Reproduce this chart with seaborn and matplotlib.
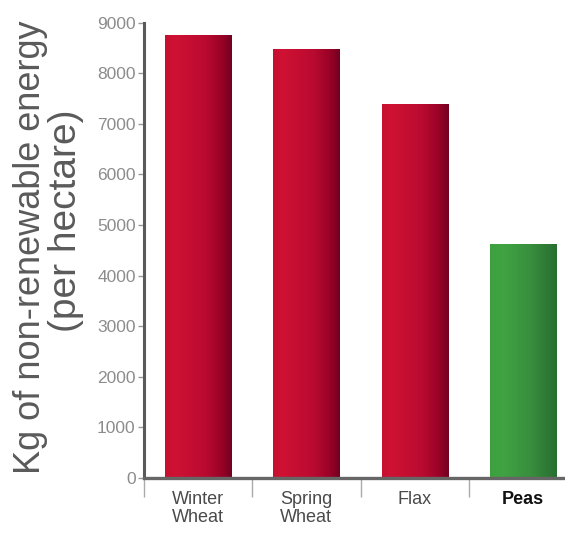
import numpy as np
import pandas as pd
import matplotlib
matplotlib.use("Agg")
import matplotlib.pyplot as plt
from matplotlib.colors import LinearSegmentedColormap
import seaborn as sns

# Non-renewable energy use per hectare by crop
crops = ["Winter\nWheat", "Spring\nWheat", "Flax", "Peas"]
energy_kg = [8750, 8490, 7400, 4620]
y_ticks = [0, 1000, 2000, 3000, 4000, 5000, 6000, 7000, 8000, 9000]

sns.set_theme(style="white")
plt.rcParams["font.family"] = ["Liberation Sans", "DejaVu Sans"]

df = pd.DataFrame({"crop": crops, "energy": energy_kg})

fig = plt.figure(figsize=(5.65, 5.37), dpi=100)
ax = fig.add_axes([144 / 565, 59 / 537, 433 / 565, 455.3 / 537])

base_colors = ["#c0102e", "#c0102e", "#c0102e", "#3a9a44"]
sns.barplot(data=df, x="crop", y="energy", hue="crop", palette=base_colors,
            legend=False, width=0.61, saturation=1, ax=ax)

# Horizontal shading inside each bar
red_cmap = LinearSegmentedColormap.from_list(
    "red_shade",
    [(0.0, (0.78, 0.06, 0.19)), (0.15, (0.81, 0.07, 0.20)),
     (0.6, (0.73, 0.04, 0.19)), (0.85, (0.60, 0.01, 0.15)),
     (1.0, (0.44, 0.00, 0.13))])
green_cmap = LinearSegmentedColormap.from_list(
    "green_shade",
    [(0.0, (0.24, 0.63, 0.25)), (0.2, (0.25, 0.64, 0.26)),
     (0.6, (0.22, 0.56, 0.24)), (1.0, (0.16, 0.43, 0.19))])
grad = np.linspace(0, 1, 256).reshape(1, -1)
for patch, cmap in zip(ax.patches, [red_cmap, red_cmap, red_cmap, green_cmap]):
    x0, y0 = patch.get_x(), patch.get_y()
    w, h = patch.get_width(), patch.get_height()
    im = ax.imshow(grad, cmap=cmap, aspect="auto", extent=[x0, x0 + w, y0, y0 + h],
                   zorder=patch.get_zorder() + 0.1, interpolation="bilinear")
    im.set_clip_path(patch)

ax.set_xlim(-0.5, 3.5)
ax.set_ylim(0, 9000)
ax.set_yticks(y_ticks)
ax.set_yticklabels([str(v) for v in y_ticks], color="#8c8c8c", fontsize=12.5)
ax.tick_params(axis="y", direction="out", length=4, width=1, color="#999999",
               left=True, pad=2)

# Category labels centred under bars, tick marks on category boundaries
ax.set_xticks(range(len(crops)))
ax.set_xticklabels(crops, fontsize=13, color="#4a4a4a", linespacing=1.1)
ax.get_xticklabels()[-1].set_fontweight("bold")
ax.get_xticklabels()[-1].set_color("#111111")
ax.tick_params(axis="x", which="major", length=0, pad=9)
ax.set_xticks([-0.5, 0.5, 1.5, 2.5, 3.5], minor=True)
ax.tick_params(axis="x", which="minor", direction="out", length=14, width=1,
               color="#aaaaaa", bottom=True)

ax.set_xlabel("")
ax.set_ylabel("")
for side in ["top", "right"]:
    ax.spines[side].set_visible(False)
ax.spines["left"].set_color("#5a5a5a")
ax.spines["left"].set_linewidth(2.2)
ax.spines["bottom"].set_color("#666666")
ax.spines["bottom"].set_linewidth(2.4)

fig.text(30.5 / 565, 1 - 247 / 537, "Kg of non-renewable energy", rotation=90,
         ha="center", va="center", fontsize=26, color="#5a5a5a")
fig.text(66 / 565, 1 - 221 / 537, "(per hectare)", rotation=90,
         ha="center", va="center", fontsize=28, color="#5a5a5a")

fig.savefig("out.png", dpi=100, facecolor="white")
